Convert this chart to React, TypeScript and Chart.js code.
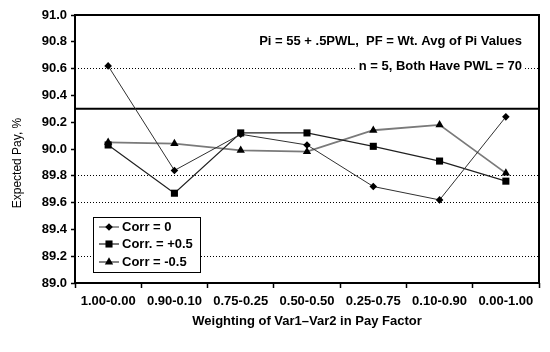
import React, { useEffect, useRef } from "react";
import { Chart, registerables } from "chart.js";

Chart.register(...registerables);

const categories = ["1.00-0.00", "0.90-0.10", "0.75-0.25", "0.50-0.50", "0.25-0.75", "0.10-0.90", "0.00-1.00"];
const seriesNames = ["Corr = 0", "Corr. = +0.5", "Corr = -0.5"];
const corrZero = [90.62, 89.84, 90.11, 90.03, 89.72, 89.62, 90.24];
const corrPlus = [90.03, 89.67, 90.12, 90.12, 90.02, 89.91, 89.76];
const corrMinus = [90.05, 90.04, 89.99, 89.98, 90.14, 90.18, 89.82];
const referenceValue = 90.3;
const dottedGridValues = [90.6, 89.8, 89.6, 89.2];
const yMin = 89.0;
const yMax = 91.0;
const yStep = 0.2;
const yTitle = "Expected Pay, %";
const xTitle = "Weighting of Var1\u2013Var2 in Pay Factor";
const noteLines = ["Pi = 55 + .5PWL,  PF = Wt. Avg of Pi Values", "n = 5, Both Have PWL = 70"];

const FONT = '"Liberation Sans", Arial, sans-serif';

function drawMarker(ctx: CanvasRenderingContext2D, style: string, x: number, y: number, r: number) {
  ctx.beginPath();
  if (style === "rectRot") {
    ctx.moveTo(x, y - r);
    ctx.lineTo(x + r, y);
    ctx.lineTo(x, y + r);
    ctx.lineTo(x - r, y);
  } else if (style === "rect") {
    const s = r * Math.SQRT1_2;
    ctx.rect(x - s, y - s, 2 * s, 2 * s);
  } else {
    const a = (2 * Math.PI) / 3;
    ctx.moveTo(x, y - r);
    ctx.lineTo(x + Math.sin(a) * r, y - Math.cos(a) * r);
    ctx.lineTo(x + Math.sin(2 * a) * r, y - Math.cos(2 * a) * r);
  }
  ctx.closePath();
  ctx.fill();
}

const decorPlugin = {
  id: "decor",
  beforeDatasetsDraw(chart: any) {
    const { ctx, chartArea, scales } = chart;
    const y = scales.y.getPixelForValue(referenceValue);
    ctx.save();
    ctx.strokeStyle = "#000";
    ctx.lineWidth = 2;
    ctx.beginPath();
    ctx.moveTo(chartArea.left, y);
    ctx.lineTo(chartArea.right, y);
    ctx.stroke();

    // note text with white background per line
    ctx.font = `bold 13px ${FONT}`;
    ctx.textAlign = "right";
    ctx.textBaseline = "middle";
    const noteY = [41, 66];
    noteLines.forEach((t, i) => {
      const w = ctx.measureText(t).width;
      ctx.fillStyle = "#fff";
      ctx.fillRect(522 - w - 2, noteY[i] - 8, w + 4, 16);
      ctx.fillStyle = "#000";
      ctx.fillText(t, 522, noteY[i]);
    });
    ctx.restore();
  },
  afterDatasetsDraw(chart: any) {
    const { ctx, chartArea } = chart;
    ctx.save();
    // frame
    ctx.strokeStyle = "#000";
    ctx.lineWidth = 2;
    ctx.strokeRect(chartArea.left, chartArea.top, chartArea.right - chartArea.left, chartArea.bottom - chartArea.top);

    // y title
    ctx.save();
    ctx.fillStyle = "#000";
    ctx.translate(18, 163);
    ctx.rotate(-Math.PI / 2);
    ctx.textAlign = "center";
    ctx.textBaseline = "middle";
    ctx.font = `12px ${FONT}`;
    ctx.fillText(yTitle, 0, 0);
    ctx.restore();

    // legend
    const bx = 93.5, by = 217.5, bw = 107, bh = 55;
    ctx.fillStyle = "#fff";
    ctx.fillRect(bx, by, bw, bh);
    ctx.strokeStyle = "#000";
    ctx.lineWidth = 1;
    ctx.strokeRect(bx, by, bw, bh);
    const rows = [227, 244, 262];
    chart.data.datasets.forEach((ds: any, i: number) => {
      const yy = rows[i];
      ctx.strokeStyle = ds.borderColor;
      ctx.lineWidth = ds.borderWidth;
      ctx.beginPath();
      ctx.moveTo(99, yy);
      ctx.lineTo(119, yy);
      ctx.stroke();
      ctx.fillStyle = "#000";
      drawMarker(ctx, ds.pointStyle, 109, yy, ds.pointRadius);
      ctx.fillStyle = "#000";
      ctx.font = `bold 13px ${FONT}`;
      ctx.textAlign = "left";
      ctx.textBaseline = "middle";
      ctx.fillText(ds.label, 122, yy);
    });
    ctx.restore();
  },
};

export default function App() {
  const ref = useRef<HTMLCanvasElement>(null);

  useEffect(() => {
    if (!ref.current) return;
    const isDotted = (v: number) => dottedGridValues.some((g) => Math.abs(g - v) < 1e-6);
    const chart = new Chart(ref.current, {
      type: "line",
      data: {
        labels: categories,
        datasets: [
          {
            label: seriesNames[0],
            data: corrZero,
            borderColor: "#303030",
            borderWidth: 1,
            pointStyle: "rectRot",
            pointRadius: 3.8,
            pointBackgroundColor: "#000",
            pointBorderColor: "#000",
            pointBorderWidth: 0,
            tension: 0,
          },
          {
            label: seriesNames[1],
            data: corrPlus,
            borderColor: "#202020",
            borderWidth: 1.2,
            pointStyle: "rect",
            pointRadius: 5,
            pointBackgroundColor: "#000",
            pointBorderColor: "#000",
            pointBorderWidth: 0,
            tension: 0,
          },
          {
            label: seriesNames[2],
            data: corrMinus,
            borderColor: "#7a7a7a",
            borderWidth: 1.8,
            pointStyle: "triangle",
            pointRadius: 4.8,
            pointBackgroundColor: "#000",
            pointBorderColor: "#000",
            pointBorderWidth: 0,
            tension: 0,
          },
        ],
      },
      options: {
        responsive: false,
        animation: false,
        layout: { padding: { top: 15, right: 11, left: 0, bottom: 0 } },
        plugins: {
          legend: { display: false },
          tooltip: { enabled: false },
        },
        scales: {
          x: {
            type: "category",
            offset: true,
            grid: {
              offset: true,
              drawOnChartArea: false,
              drawTicks: true,
              tickLength: 5,
              tickColor: "#000",
              tickWidth: 1.5,
            },
            border: { display: false },
            ticks: {
              color: "#000",
              font: { family: FONT, size: 13, weight: "bold" },
              padding: 6,
              maxRotation: 0,
              autoSkip: false,
            },
            title: {
              display: true,
              text: xTitle,
              color: "#000",
              font: { family: FONT, size: 13, weight: "bold" },
              padding: { top: 0, bottom: 23 },
            },
            afterFit(scale: any) {
              scale.height = 69;
            },
          },
          y: {
            min: yMin,
            max: yMax,
            grid: {
              color: (c: any) => (c.tick && isDotted(c.tick.value) ? "#000" : "rgba(0,0,0,0)"),
              lineWidth: 1,
              drawTicks: true,
              tickLength: 4,
              tickColor: "#000",
              tickWidth: 1.5,
              tickBorderDash: [],
            },
            border: { display: false, dash: [1, 2] },
            ticks: {
              stepSize: yStep,
              color: "#000",
              font: { family: FONT, size: 13, weight: "bold" },
              padding: 4,
              callback: (v: any) => Number(v).toFixed(1),
            },
            afterFit(scale: any) {
              scale.width = 75;
            },
          },
        },
      },
      plugins: [decorPlugin],
    });
    return () => chart.destroy();
  }, []);

  return (
    <div style={{ position: "absolute", left: 0, top: 0, width: 550, height: 352, background: "#fff" }}>
      <canvas ref={ref} width={550} height={352} />
    </div>
  );
}
